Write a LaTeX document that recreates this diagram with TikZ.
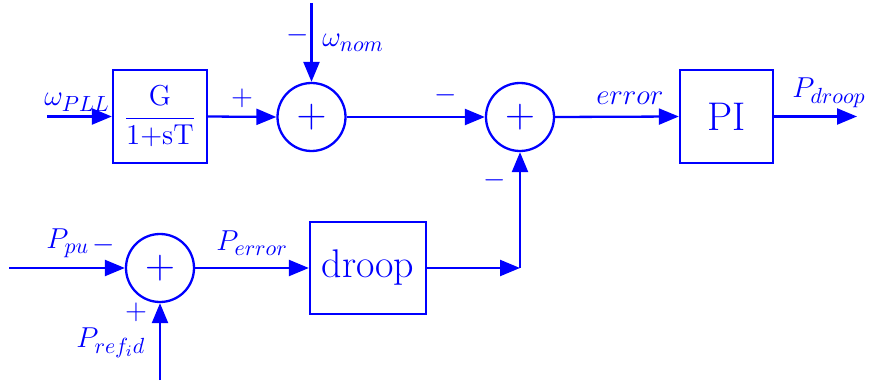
\documentclass[tikz,border=0pt]{standalone}
\usetikzlibrary{arrows.meta}
\begin{document}
\begin{tikzpicture}[x=0.5pt,y=-0.5pt,
  blk/.style={draw=blue,line width=1.15pt,rectangle,inner sep=0pt,text=blue},
  sumnode/.style={draw=blue,line width=1.15pt,circle,minimum size=34pt,inner sep=0pt,text=blue,font=\fontsize{20}{22}\selectfont},
  lbl/.style={inner sep=0pt,text=blue,font=\fontsize{15.5}{18}\selectfont},
  sig/.style={draw=blue,line width=1.15pt,-{Triangle[length=10pt,width=8pt]}},
  bigtxt/.style={font=\fontsize{20}{23}\selectfont}]
\useasboundingbox (0,0) rectangle (869,385);

% blocks
\node[blk,minimum width=47pt,minimum height=46.5pt,font=\fontsize{14.5}{17}\selectfont] (lag) at (160,116.5) {$\displaystyle\frac{\mathrm{G}}{\mathrm{1{+}sT}}$};
\node[sumnode] (s1) at (311.5,117) {$+$};
\node[sumnode] (s2) at (520,117) {$+$};
\node[blk,bigtxt,minimum width=46.5pt,minimum height=46.5pt] (pi) at (726.5,116.5) {PI};
\node[sumnode] (s3) at (160,268) {$+$};
\node[blk,bigtxt,minimum width=58pt,minimum height=46pt] (droop) at (368,268) {droop};

% free ends
\coordinate (inpll) at (47,116.5);
\coordinate (nom) at (311.5,3);
\coordinate (out) at (857,116.5);
\coordinate (inpu) at (9,268);
\coordinate (ref) at (160,380);
\coordinate (corner) at (520,268);

% signals
\draw[sig] (inpll) -- (lag.west);
\draw[sig] (lag.east) -- (s1.west);
\draw[sig] (nom) -- (s1.north);
\draw[sig] (s1.east) -- (s2.west);
\draw[sig] (s2.east) -- (pi.west);
\draw[sig] (pi.east) -- (out);
\draw[sig] (inpu) -- (s3.west);
\draw[sig] (ref) -- (s3.south);
\draw[sig] (s3.east) -- (droop.west);
\draw[sig] (droop.east) -- (corner);
\draw[sig] (corner) -- (s2.south);

% labels
\node[lbl,anchor=base west] (lpll) at (44,106) {$\omega_{PLL}$};
\node[lbl,anchor=base west] (lnom) at (322,47) {$\omega_{nom}$};
\node[lbl] (mnom) at (298,35) {$-$};
\node[lbl] (plag) at (242,98) {$+$};
\node[lbl] (ms2a) at (446,95) {$-$};
\node[lbl] (ms2b) at (495,180) {$-$};
\node[lbl,anchor=base west] (lerr) at (596,105) {$error$};
\node[lbl,anchor=base west] (ldroop) at (792,98) {$P_{droop}$};
\node[lbl,anchor=base west] (lpu) at (46,249) {$P_{pu}$};
\node[lbl] (mpu) at (104,245) {$-$};
\node[lbl,anchor=base west] (lperr) at (216,251) {$P_{error}$};
\node[lbl] (pref) at (136,312) {$+$};
\node[lbl,anchor=base west] (lref) at (76,348) {$P_{ref_id}$};
\end{tikzpicture}
\end{document}
